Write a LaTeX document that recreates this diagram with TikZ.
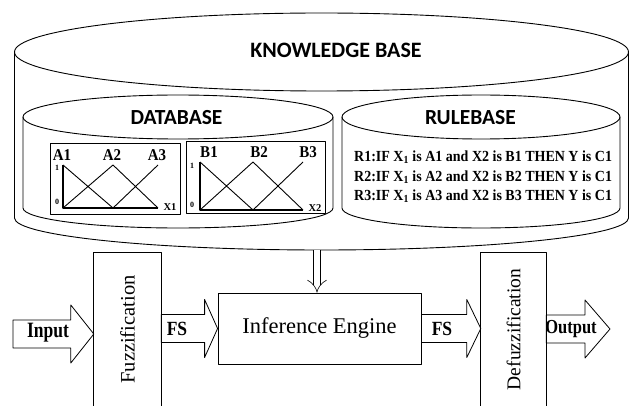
\documentclass[tikz,border=0pt]{standalone}
\usepackage{fontspec}
\setmainfont{Liberation Serif}
\newfontfamily\calibri{Carlito}
\usetikzlibrary{arrows.meta,calc}

% cylinder: centre x, top y, x radius, top y radius, side bottom y, bottom y radius
\newcommand{\kbcyl}[6]{%
  \draw[cyl] (#1,#2) ellipse [x radius=#3pt, y radius=#4pt];
  \draw[cyl] (#1-#3,#2) -- (#1-#3,#5) arc [start angle=180, end angle=360, x radius=#3pt, y radius=#6pt] -- (#1+#3,#2);}

% block arrow: from, to, head length
\newcommand{\fatarrow}[3]{%
  \draw[fatarrow] let \p1=(#1), \p2=(#2) in
    (\x1,\y1+14pt) -- (\x2-#3,\y1+14pt) -- (\x2-#3,\y1+29pt) -- (\x2,\y1)
    -- (\x2-#3,\y1-29pt) -- (\x2-#3,\y1-14pt) -- (\x1,\y1-14pt) -- cycle;}

% taller text
\newcommand{\tall}[2]{\scalebox{1}[#1]{#2}}

\begin{document}
\begin{tikzpicture}[x=1pt,y=-1pt,line join=round,
  cyl/.style={line width=0.9pt},
  box/.style={line width=0.8pt},
  fatarrow/.style={line width=0.8pt},
  axisline/.style={line width=1.6pt},
  mf/.style={line width=0.9pt},
  basetitle/.style={font=\calibri\bfseries\fontsize{22}{26}\selectfont},
  lbl/.style={font=\bfseries\fontsize{15}{17}\selectfont, inner sep=0pt},
  ticklbl/.style={font=\bfseries\fontsize{8}{9}\selectfont, inner sep=0pt},
  rule/.style={font=\bfseries\fontsize{14}{16}\selectfont, anchor=west, inner sep=0pt},
  flow/.style={font=\bfseries\fontsize{17.5}{20}\selectfont, inner sep=0pt},
  stage/.style={font=\fontsize{20.5}{24}\selectfont}]
\fill[white] (0,0) rectangle (632,406);
\useasboundingbox (0,0) rectangle (632,406);

% knowledge base
\kbcyl{321.5}{52}{307}{39}{218}{32}
\node[basetitle] (kb) at (336,50) {KNOWLEDGE BASE};
\kbcyl{178}{117}{155}{22}{208}{20}
\node[basetitle, font=\calibri\bfseries\fontsize{21.5}{26}\selectfont] (db) at (176.5,118) {DATABASE};
\kbcyl{481}{117}{139}{22}{208}{20}
\node[basetitle, font=\calibri\bfseries\fontsize{21.5}{26}\selectfont] (rb) at (470.5,118) {RULEBASE};

% membership functions
\node[draw, box, minimum width=130pt, minimum height=71pt] (chartA) at (115,178.5) {};
\node[draw, box, minimum width=139pt, minimum height=72pt] (chartB) at (255.5,177) {};
\draw[axisline] (63,165) -- (63,208) -- (158,208);
\draw[mf] (63,165) -- (113,208) (63,208) -- (113,165) -- (158,208) (113,208) -- (158,165);
\draw[axisline] (200,162) -- (200,210) -- (303,210);
\draw[mf] (200,162) -- (253,210) (200,210) -- (253,162) -- (303,210) (253,210) -- (303,162);
\foreach \n/\x in {1/62,2/112,3/157}
  \node[lbl] (a\n) at (\x,155) {\tall{1.1}{A\n}};
\foreach \n/\x in {1/209,2/259,3/308}
  \node[lbl] (b\n) at (\x,152) {\tall{1.1}{B\n}};
\node[ticklbl] (oneA) at (57,168) {1};
\node[ticklbl] (zeroA) at (57,202) {0};
\node[ticklbl, font=\bfseries\fontsize{10.5}{12}\selectfont] (xa) at (170,207) {X1};
\node[ticklbl] (oneB) at (192,166) {1};
\node[ticklbl] (zeroB) at (192,205) {0};
\node[ticklbl, font=\bfseries\fontsize{10.5}{12}\selectfont] (xb) at (315,208) {X2};

% rules
\foreach \i/\y in {1/157,2/177,3/196}
  \node[rule] (r\i) at (354,\y) {\tall{1.1}{R\i:IF X\textsubscript{1} is A\i\ and X2 is B\i\ THEN Y is C1}};

% inference chain
\node[stage, minimum width=67pt, minimum height=153pt] (fuzz) at (127.5,329.5) {\raisebox{0pt}{\rotatebox{90}{Fuzzification}}};
\draw[box] (fuzz.south west) -- (fuzz.north west) -- (fuzz.north east) -- (fuzz.south east);
\node[draw, box, minimum width=203pt, minimum height=71pt, font=\fontsize{22.5}{26}\selectfont] (inf) at (319.5,328.5) {Inference Engine};
\node[stage, font=\fontsize{19.5}{24}\selectfont, minimum width=65pt, minimum height=153pt] (defuzz) at (513.5,329.5) {\rotatebox{90}{Defuzzification}};
\draw[box] (defuzz.south west) -- (defuzz.north west) -- (defuzz.north east) -- (defuzz.south east);

\coordinate (in) at (13,334);
\coordinate (out) at (610,329);
\coordinate (kbbot) at (317,250);
\fatarrow{in}{fuzz.west |- in}{23pt}
\fatarrow{fuzz.east |- inf}{inf.west}{13pt}
\fatarrow{inf.east}{defuzz.west |- inf}{14pt}
\fatarrow{defuzz.east |- out}{out}{25pt}
\draw[double, double distance=6.5pt, line width=0.6pt, -{Implies}] (kbbot) -- (kbbot |- inf.north);

\node[flow] (input) at (48,333) {\tall{1.25}{Input}};
\node[flow] (fs1) at (177,329) {\tall{1.15}{FS}};
\node[flow] (fs2) at (442,329) {\tall{1.15}{FS}};
\node[flow, font=\bfseries\fontsize{16.5}{20}\selectfont] (output) at (571,329) {\tall{1.2}{Output}};
\end{tikzpicture}
\end{document}
